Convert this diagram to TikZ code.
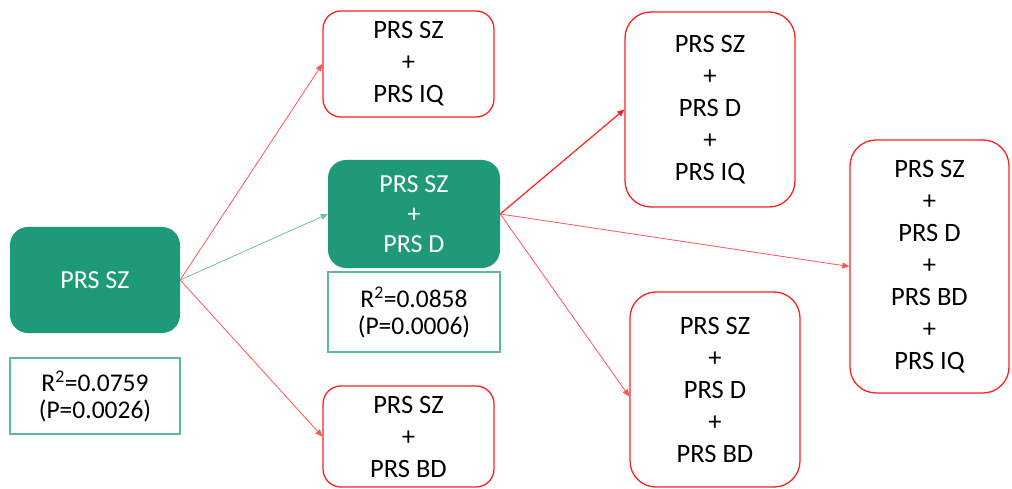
\documentclass[tikz,border=0pt]{standalone}
\usepackage{fontspec}
\setmainfont{Carlito}
\usetikzlibrary{arrows.meta}
\definecolor{pgreen}{HTML}{1F9A78}
\definecolor{lgreen}{HTML}{5DBB99}
\definecolor{agreen}{HTML}{6CC3A5}
\definecolor{pred}{HTML}{FF2020}
\definecolor{ared}{HTML}{FF5555}
\tikzset{
  greenbox/.style={draw=none, fill=pgreen, rounded corners=18pt, text=white, align=center, font=\fontsize{26}{30}\selectfont, inner sep=0pt},
  redbox/.style={draw=pred, line width=1.3pt, fill=white, rounded corners=#1, align=center, font=\fontsize{26.5}{32}\selectfont, inner sep=0pt},
  redbox/.default=18pt,
  statbox/.style={draw=lgreen, line width=1.2pt, fill=white, align=center, font=\fontsize{25.5}{27}\selectfont, inner sep=0pt},
  redarrow/.style={draw=ared, line width=0.8pt, -{Triangle[length=7pt,width=6pt]}},
  greenarrow/.style={draw=agreen, line width=0.8pt, -{Triangle[length=7pt,width=6pt]}}
}
\begin{document}
\begin{tikzpicture}[x=1pt,y=-1pt]
\useasboundingbox (0,0) rectangle (1012,489);
\node[greenbox, minimum width=170pt, minimum height=106pt] (sz) at (95,280) {PRS SZ};
\node[statbox, minimum width=170pt, minimum height=76pt] (s1) at (95,396) {R\textsuperscript{2}=0.0759\\(P=0.0026)};
\node[redbox, minimum width=171pt, minimum height=106pt] (iq) at (408.5,64) {PRS SZ\\+\\PRS IQ};
\node[greenbox, minimum width=172pt, minimum height=108pt] (d) at (414,214) {PRS SZ\\+\\PRS D};
\node[statbox, minimum width=172pt, minimum height=80pt] (s2) at (414,312) {R\textsuperscript{2}=0.0858\\(P=0.0006)};
\node[redbox, minimum width=171pt, minimum height=101pt] (bd) at (408.5,436.5) {PRS SZ\\+\\PRS BD};
\node[redbox=26pt, minimum width=170pt, minimum height=195pt] (diq) at (710,109.5) {PRS SZ\\+\\PRS D\\+\\PRS IQ};
\node[redbox=26pt, minimum width=170pt, minimum height=195pt] (dbd) at (715,389.5) {PRS SZ\\+\\PRS D\\+\\PRS BD};
\node[redbox=26pt, minimum width=159pt, minimum height=253pt] (all) at (929.5,266.5) {PRS SZ\\+\\PRS D\\+\\PRS BD\\+\\PRS IQ};
\draw[redarrow] (sz.east) -- (iq.west);
\draw[greenarrow] (sz.east) -- (d.west);
\draw[redarrow] (sz.east) -- (bd.west);
\draw[redarrow, draw=pred, line width=1.2pt] (d.east) -- (diq.west);
\draw[redarrow] (d.east) -- (all.west);
\draw[redarrow] (d.east) -- ([yshift=-7pt]dbd.west);
\end{tikzpicture}
\end{document}
